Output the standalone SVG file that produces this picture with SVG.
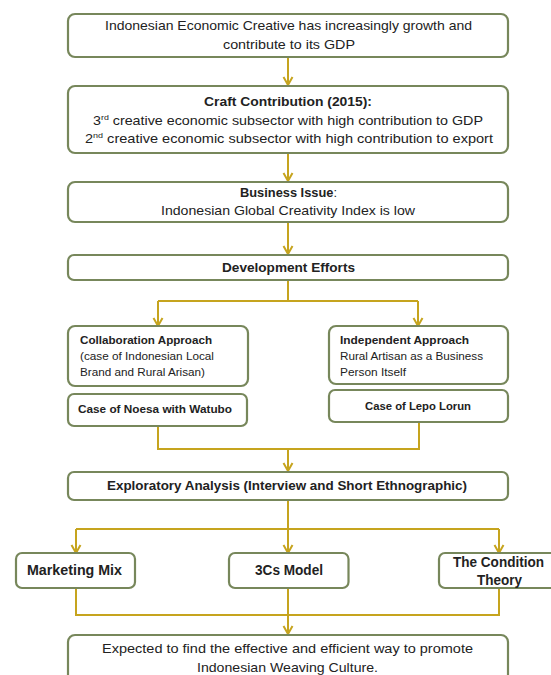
<svg xmlns="http://www.w3.org/2000/svg" width="551" height="675" viewBox="0 0 551 675">
<defs>
<style>
.box{fill:#fff;stroke:#77875B;stroke-width:2.2}
.con{fill:none;stroke:#C6A41E;stroke-width:2}
.head{fill:none;stroke:#C6A41E;stroke-width:2;stroke-linejoin:miter}
text{font-family:"Liberation Sans",Arial,sans-serif;fill:#222;text-anchor:middle}
.t13{font-size:13px}
.t14{font-size:14px}
.t11{font-size:11px}
.b{font-weight:bold}
.l{text-anchor:start}
</style>
</defs>
<rect width="551" height="675" fill="#fff"/>
<g id="connectors">
<path class="con" d="M288 57V85"/>
<path class="con" d="M288 153V181"/>
<path class="con" d="M288 222V254"/>
<path class="con" d="M288 280V301M158 301H418M158 301V326M418 301V326"/>
<path class="con" d="M158 426V449H419V422M288 449V471"/>
<path class="con" d="M288 500V529M76 529H499M76 529V553M288 529V553M499 529V553"/>
<path class="con" d="M76 588V615H499V588M288 588V615M288 615V634"/>
<path class="head" d="M283.5 77L288 85L292.5 77"/>
<path class="head" d="M283.5 173L288 181L292.5 173"/>
<path class="head" d="M283.5 246L288 254L292.5 246"/>
<path class="head" d="M153.5 318L158 326L162.5 318"/>
<path class="head" d="M413.5 318L418 326L422.5 318"/>
<path class="head" d="M283.5 463L288 471L292.5 463"/>
<path class="head" d="M71.5 545L76 553L80.5 545"/>
<path class="head" d="M283.5 545L288 553L292.5 545"/>
<path class="head" d="M494.5 545L499 553L503.5 545"/>
<path class="head" d="M283.5 626L288 634L292.5 626"/>
</g>
<g id="n1">
<rect class="box" x="68" y="14" width="440" height="43" rx="7"/>
<text class="t13" x="288.5" y="30" textLength="367" lengthAdjust="spacingAndGlyphs">Indonesian Economic Creative has increasingly growth and</text>
<text class="t13" x="289" y="49" textLength="132" lengthAdjust="spacingAndGlyphs">contribute to its GDP</text>
</g>
<g id="n2">
<rect class="box" x="68" y="86" width="440" height="67" rx="7"/>
<text class="t13 b" x="288" y="106" textLength="168" lengthAdjust="spacingAndGlyphs">Craft Contribution (2015):</text>
<text class="t13" x="288" y="125" textLength="390" lengthAdjust="spacingAndGlyphs">3<tspan font-size="8" dy="-5">rd</tspan><tspan dy="5"> creative economic subsector with high contribution to GDP</tspan></text>
<text class="t13" x="289" y="143" textLength="408" lengthAdjust="spacingAndGlyphs">2<tspan font-size="8" dy="-5">nd</tspan><tspan dy="5"> creative economic subsector with high contribution to export</tspan></text>
</g>
<g id="n3">
<rect class="box" x="68" y="182" width="440" height="40" rx="7"/>
<text class="t13" x="288.5" y="197" textLength="97" lengthAdjust="spacingAndGlyphs"><tspan class="b">Business Issue</tspan>:</text>
<text class="t13" x="288" y="215" textLength="254" lengthAdjust="spacingAndGlyphs">Indonesian Global Creativity Index is low</text>
</g>
<g id="n4">
<rect class="box" x="68" y="255" width="440" height="25" rx="6"/>
<text class="t13 b" x="288.5" y="272" textLength="133" lengthAdjust="spacingAndGlyphs">Development Efforts</text>
</g>
<g id="n5">
<rect class="box" x="68" y="326" width="180" height="60" rx="7"/>
<text class="t11 b l" x="80" y="344" textLength="132" lengthAdjust="spacingAndGlyphs">Collaboration Approach</text>
<text class="t11 l" x="80" y="360" textLength="134" lengthAdjust="spacingAndGlyphs">(case of Indonesian Local</text>
<text class="t11 l" x="80" y="376" textLength="125" lengthAdjust="spacingAndGlyphs">Brand and Rural Arisan)</text>
</g>
<g id="n6">
<rect class="box" x="68" y="394" width="179" height="32" rx="6"/>
<text class="t11 b" x="155" y="413" textLength="154" lengthAdjust="spacingAndGlyphs">Case of Noesa with Watubo</text>
</g>
<g id="n7">
<rect class="box" x="329" y="326" width="179" height="58" rx="7"/>
<text class="t11 b l" x="340" y="344" textLength="129" lengthAdjust="spacingAndGlyphs">Independent Approach</text>
<text class="t11 l" x="340" y="360" textLength="143" lengthAdjust="spacingAndGlyphs">Rural Artisan as a Business</text>
<text class="t11 l" x="340" y="376" textLength="66" lengthAdjust="spacingAndGlyphs">Person Itself</text>
</g>
<g id="n8">
<rect class="box" x="329" y="390" width="179" height="32" rx="6"/>
<text class="t11 b" x="418" y="410" textLength="106" lengthAdjust="spacingAndGlyphs">Case of Lepo Lorun</text>
</g>
<g id="n9">
<rect class="box" x="68" y="472" width="440" height="28" rx="6"/>
<text class="t13 b" x="287" y="490" textLength="360" lengthAdjust="spacingAndGlyphs">Exploratory Analysis (Interview and Short Ethnographic)</text>
</g>
<g id="n10">
<rect class="box" x="16" y="553" width="119" height="35" rx="6"/>
<text class="t14 b" x="74.5" y="575" textLength="95" lengthAdjust="spacingAndGlyphs">Marketing Mix</text>
</g>
<g id="n11">
<rect class="box" x="229" y="553" width="119.5" height="35" rx="6"/>
<text class="t14 b" x="289" y="575" textLength="68" lengthAdjust="spacingAndGlyphs">3Cs Model</text>
</g>
<g id="n12">
<rect class="box" x="439" y="553" width="120" height="35" rx="6"/>
<text class="t14 b" x="498.5" y="567" textLength="91" lengthAdjust="spacingAndGlyphs">The Condition</text>
<text class="t14 b" x="499.5" y="585" textLength="45" lengthAdjust="spacingAndGlyphs">Theory</text>
</g>
<g id="n13">
<rect class="box" x="68" y="635" width="440" height="50" rx="7"/>
<text class="t13" x="287.5" y="653" textLength="371" lengthAdjust="spacingAndGlyphs">Expected to find the effective and efficient way to promote</text>
<text class="t13" x="287.5" y="672" textLength="181" lengthAdjust="spacingAndGlyphs">Indonesian Weaving Culture.</text>
</g>
</svg>
